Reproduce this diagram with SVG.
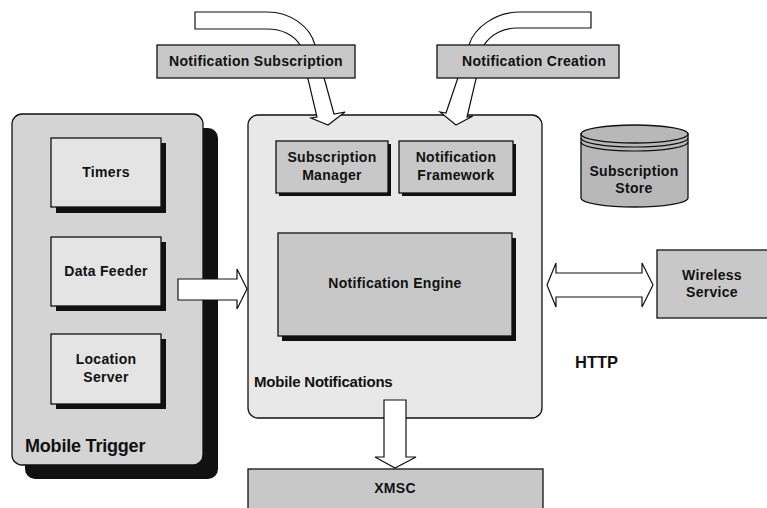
<svg xmlns="http://www.w3.org/2000/svg" width="767" height="508" viewBox="0 0 767 508">
<style>
text{font-family:"Liberation Sans",Arial,sans-serif;font-weight:bold;fill:#111;text-anchor:middle}
.t{font-size:14px;letter-spacing:0.3px}
.big{font-size:18px;text-anchor:start;letter-spacing:-0.2px}
.mid{font-size:15px;text-anchor:start;letter-spacing:-0.2px}
.arrow{fill:#fff;stroke:#111;stroke-width:1.2;stroke-linejoin:miter}
.shadow{fill:#111}
.lightbox{fill:#e4e4e4;stroke:#111;stroke-width:1.3}
.graybox{fill:#c8c8c8;stroke:#111;stroke-width:1.3}
</style>
<rect width="767" height="508" fill="#fff"/>

<g id="mobile-trigger">
  <rect class="shadow" x="25" y="128" width="193" height="351" rx="10"/>
  <rect x="12" y="114" width="191" height="351" rx="10" fill="#d4d4d4" stroke="#111" stroke-width="1.3"/>
  <text class="big" x="25" y="452">Mobile Trigger</text>
</g>
<g id="timers">
  <rect class="shadow" x="56" y="143" width="110" height="70"/>
  <rect class="lightbox" x="51" y="138" width="110" height="69"/>
  <text class="t" x="106" y="177">Timers</text>
</g>
<g id="data-feeder">
  <rect class="shadow" x="56" y="242" width="110" height="69"/>
  <rect class="lightbox" x="51" y="237" width="110" height="69"/>
  <text class="t" x="106" y="276">Data Feeder</text>
</g>
<g id="location-server">
  <rect class="shadow" x="56" y="339" width="110" height="70"/>
  <rect class="lightbox" x="51" y="334" width="110" height="70"/>
  <text class="t" x="106" y="364">Location</text>
  <text class="t" x="106" y="382">Server</text>
</g>

<g id="mobile-notifications">
  <rect x="248" y="115" width="294" height="303" rx="10" fill="#e8e8e8" stroke="#111" stroke-width="1.3"/>
  <text class="mid" x="254" y="387">Mobile Notifications</text>
</g>
<g id="subscription-manager">
  <rect class="shadow" x="279" y="144" width="112" height="52"/>
  <rect class="graybox" x="276" y="141" width="112" height="52"/>
  <text class="t" x="332" y="162">Subscription</text>
  <text class="t" x="332" y="180">Manager</text>
</g>
<g id="notification-framework">
  <rect class="shadow" x="402" y="144" width="114" height="52"/>
  <rect class="graybox" x="399" y="141" width="114" height="52"/>
  <text class="t" x="456" y="162">Notification</text>
  <text class="t" x="456" y="180">Framework</text>
</g>
<g id="notification-engine">
  <rect class="shadow" x="282" y="238" width="234" height="103"/>
  <rect class="graybox" x="278" y="233" width="234" height="103"/>
  <text class="t" x="395" y="288">Notification Engine</text>
</g>

<g id="connectors">
  <path class="arrow" d="M195,12 L267,12 C290,12 310,26 315,45 L334,114 L345,112 L328,125 L311,118 L317,117 L300,45 C294,35 282,29 267,29 L195,29 Z"/>
  <path class="arrow" d="M591,12 L520,12 C495,12 474,28 469,45 L446,113 L440,112 L456,125 L473,116 L467,117 L484,45 C492,33 505,28 517,28 L591,28 Z"/>
  <path class="arrow" d="M178,279 L237,279 L237,269 L247,289 L237,309 L237,300 L178,300 Z"/>
  <path class="arrow" d="M547,285 L556,263 L556,273 L642,273 L642,263 L653,285 L642,307 L642,297 L556,297 L556,307 Z"/>
  <path class="arrow" d="M384,400 L406,400 L406,457 L416,457 L395,468 L375,457 L384,457 Z"/>
</g>

<g id="label-subscription">
  <rect class="graybox" x="157" y="45" width="198" height="33"/>
  <text class="t" x="256" y="66">Notification Subscription</text>
</g>
<g id="label-creation">
  <rect class="graybox" x="437" y="45" width="182" height="33"/>
  <text class="t" x="534" y="66">Notification Creation</text>
</g>

<g id="subscription-store">
  <path d="M581,134 L581,198 A53.5,9 0 0 0 688,198 L688,134 Z" fill="#b8b8b8" stroke="#111" stroke-width="1.3"/>
  <ellipse cx="634.5" cy="134" rx="53.5" ry="9" fill="#b8b8b8" stroke="#111" stroke-width="1.3"/>
  <path d="M581,138 A53.5,9 0 0 0 688,138 M581,142 A53.5,9 0 0 0 688,142" fill="none" stroke="#111" stroke-width="1.2"/>
  <text class="t" x="634" y="176">Subscription</text>
  <text class="t" x="634" y="193">Store</text>
</g>

<g id="wireless-service">
  <rect class="graybox" x="657" y="250" width="115" height="68"/>
  <text class="t" x="712" y="280">Wireless</text>
  <text class="t" x="712" y="297">Service</text>
</g>

<g id="http-label">
  <text x="575" y="368" style="font-size:16.5px;text-anchor:start">HTTP</text>
</g>

<g id="xmsc">
  <rect class="graybox" x="248" y="469" width="295" height="50"/>
  <text class="t" x="395" y="493">XMSC</text>
</g>
</svg>
